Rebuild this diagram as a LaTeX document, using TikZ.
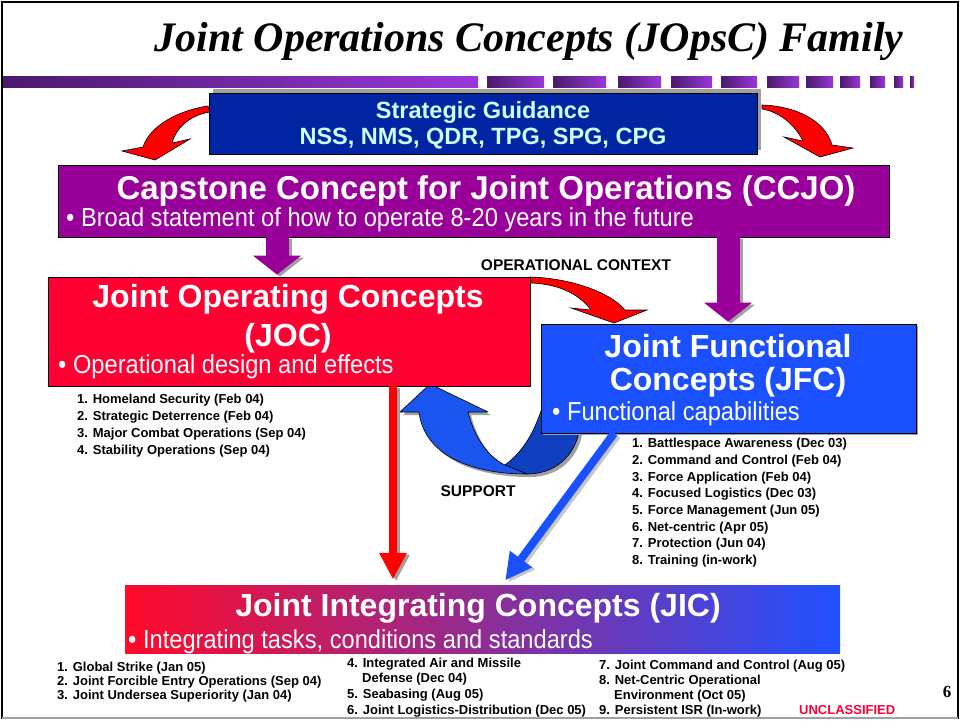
\documentclass[tikz,border=0pt]{standalone}
\usepackage{fontspec}
\setmainfont{Liberation Sans}
\newfontfamily\titlefont{Liberation Serif}
\newfontfamily\narrowfont[FakeStretch=0.91]{Liberation Sans}
\usetikzlibrary{arrows.meta, shadows}

\definecolor{barDark}{HTML}{4A1A6C}
\definecolor{barLight}{HTML}{9A36DA}
\definecolor{guideBlue}{HTML}{0024A2}
\definecolor{guideText}{HTML}{CCFFFF}
\definecolor{arrowRed}{HTML}{FF0000}
\definecolor{ccjoPurple}{HTML}{990099}
\definecolor{jocRed}{HTML}{FF0033}
\definecolor{jfcBlue}{HTML}{1A50FF}
\definecolor{ribbonBlue}{HTML}{1A55F0}
\definecolor{ribbonDark}{HTML}{1040C0}
\definecolor{jicLeft}{HTML}{FF0A2A}
\definecolor{jicMid}{HTML}{B030B0}
\definecolor{jicRight}{HTML}{2050FF}
\definecolor{shadowGray}{HTML}{A0A0A0}

\newcommand*{\setsize}[1]{\fontsize{#1}{#1}\selectfont}

\tikzstyle{box} = [draw, rectangle, inner sep=0pt, line width=0.8pt]
\tikzstyle{heading} = [text=white, font=\bfseries\setsize{32}, inner sep=0pt, anchor=base]
\tikzstyle{bullet} = [text=white, font=\narrowfont\setsize{26}, inner sep=0pt, anchor=base west]
\tikzstyle{item} = [font=\bfseries\setsize{13}, inner sep=0pt, anchor=base west]
\tikzstyle{caption} = [font=\bfseries\setsize{15.5}, inner sep=0pt, anchor=base]
\tikzstyle{bend arrow} = [draw, line width=0.6pt, fill=arrowRed, line join=miter]
\tikzstyle{ribbon} = [draw, line width=0.6pt, line join=round]
\tikzstyle{purple flow} = [
    line width=23pt,
    draw=ccjoPurple,
    -{Triangle[width=48pt 0, length=19pt 0, line width=0pt]},
    shorten >=2pt
]
\tikzstyle{thin flow} = [
    line width=8pt,
    -{Triangle[width=28pt 0, length=26pt 0, line width=0pt]},
    shorten >=6pt
]

\begin{document}
\begin{tikzpicture}[x=1pt, y=-1pt]
    \useasboundingbox (0, 0) rectangle (960, 721);

    % Frame and title bar.
    \draw [line width=2pt] (2, 719) -- (2, 2) -- (958, 2) -- (958, 719);
    \draw [line width=2pt, shadowGray] (2, 718) -- (958, 718);
    \shade [left color=barDark, right color=barLight] (3, 76) rectangle (478, 87);
    \foreach \a/\b in {487/544, 553/606, 618/661, 671/712, 721/757, 767/799,
                       806/833, 840/860, 870/885, 894/903, 910/914}
        \shade [left color=barDark, right color=barLight] (\a, 76) rectangle (\b, 87);

    \node (title) [font=\titlefont\bfseries\itshape\setsize{42}, inner sep=0pt, anchor=base]
        at (529, 51) {Joint Operations Concepts (JOpsC) Family};

    % Curved arrows.
    \draw [bend arrow] (208, 106) .. controls (180, 110) and (150, 125) .. (143, 147)
        -- (122, 151) -- (155, 160) -- (190, 139) -- (172, 143)
        .. controls (176, 128) and (190, 115) .. (210, 112) -- cycle;
    \draw [bend arrow] (762, 105) .. controls (795, 106) and (825, 120) .. (832, 145)
        -- (853, 148) -- (820, 157) -- (784, 137) -- (803, 141)
        .. controls (795, 125) and (780, 112) .. (762, 109) -- cycle;
    \draw [bend arrow] (530, 277) .. controls (570, 278) and (610, 292) .. (625, 310)
        -- (647, 310) -- (614, 323) -- (571, 308) -- (591, 310)
        .. controls (580, 295) and (560, 284) .. (531, 283) -- cycle;

    % Support ribbon.
    \fill [shadowGray, shift={(3, 3)}] (430, 384) -- (488, 412) -- (468, 412)
        .. controls (475, 440) and (490, 458) .. (505, 465)
        .. controls (525, 450) and (535, 430) .. (543, 405) -- (580, 425)
        .. controls (578, 450) and (560, 474) .. (527, 474)
        .. controls (480, 474) and (425, 460) .. (419, 412) -- (400, 412) -- cycle;
    \draw [ribbon, fill=ribbonDark] (505, 465) .. controls (525, 450) and (535, 430) .. (543, 405)
        -- (580, 425) .. controls (578, 450) and (560, 474) .. (527, 474) -- cycle;
    \draw [ribbon, fill=ribbonBlue] (430, 384) -- (488, 412) -- (468, 412)
        .. controls (475, 440) and (490, 458) .. (505, 465) -- (527, 474)
        .. controls (480, 474) and (425, 460) .. (419, 412) -- (400, 412) -- cycle;

    % Boxes.
    \node (guidance) [box, fill=guideBlue, minimum width=548pt, minimum height=61pt,
        drop shadow={shadow xshift=4pt, shadow yshift=4pt, fill=shadowGray, opacity=1}]
        at (483, 123.5) {};
    \node (ccjo) [box, fill=ccjoPurple, minimum width=831pt, minimum height=72pt] at (473.5, 201) {};
    \node (joc) [box, fill=jocRed, minimum width=482pt, minimum height=109pt] at (289, 331.5) {};
    \node (jfc) [box, fill=jfcBlue, minimum width=375pt, minimum height=109pt,
        drop shadow={shadow xshift=2pt, shadow yshift=-2pt, fill=shadowGray, opacity=1}]
        at (728.5, 378.5) {};
    \node (jic) [rectangle, left color=jicLeft, middle color=jicMid, right color=jicRight,
        minimum width=715pt, minimum height=68pt, inner sep=0pt] at (482.5, 619) {};

    % Straight arrows.
    \coordinate (left drop) at (277, 0);
    \coordinate (right drop) at (728, 0);
    \coordinate (joc drop) at (393, 0);
    \coordinate (jfc drop) at (614, 0);
    \coordinate (jic drop) at (502, 0);

    \draw [purple flow, draw=shadowGray, transform canvas={xshift=3pt, yshift=-2pt}]
        (ccjo.south -| left drop) -- (joc.north -| left drop);
    \draw [purple flow] (ccjo.south -| left drop) -- (joc.north -| left drop);
    \draw [purple flow, draw=shadowGray, transform canvas={xshift=3pt, yshift=-2pt}]
        (ccjo.south -| right drop) -- (jfc.north -| right drop);
    \draw [purple flow] (ccjo.south -| right drop) -- (jfc.north -| right drop);

    \draw [thin flow, draw=shadowGray, transform canvas={xshift=3pt, yshift=-2pt}]
        (joc.south -| joc drop) -- (jic.north -| joc drop);
    \draw [thin flow, draw=arrowRed] (joc.south -| joc drop) -- (jic.north -| joc drop);
    \draw [thin flow, draw=shadowGray!60, transform canvas={xshift=3pt, yshift=-2pt}]
        (jfc.south -| jfc drop) -- (jic.north -| jic drop);
    \draw [thin flow, draw=jfcBlue] (jfc.south -| jfc drop) -- (jic.north -| jic drop);

    % Box texts.
    \node (guidance head) [caption, text=guideText, font=\bfseries\setsize{23.5}] at (483, 118) {Strategic Guidance};
    \node (guidance list) [caption, text=guideText, font=\bfseries\setsize{23.5}] at (483, 144) {NSS, NMS, QDR, TPG, SPG, CPG};

    \node (ccjo head) [heading, font=\bfseries\setsize{33}] at (486, 199) {Capstone Concept for Joint Operations (CCJO)};
    \node (ccjo note) [bullet] at (66, 226) {\textbullet\ Broad statement of how to operate 8-20 years in the future};

    \node (joc head) [heading] at (288, 307) {Joint Operating Concepts};
    \node (joc abbr) [heading] at (288, 346) {(JOC)};
    \node (joc note) [bullet] at (58, 373) {\textbullet\ Operational design and effects};

    \node (jfc head) [heading] at (728, 357) {Joint Functional};
    \node (jfc abbr) [heading] at (728, 390) {Concepts (JFC)};
    \node (jfc note) [bullet] at (552, 420) {\textbullet\ Functional capabilities};

    \node (jic head) [heading] at (478, 616) {Joint Integrating Concepts (JIC)};
    \node (jic note) [bullet] at (128, 648) {\textbullet\ Integrating tasks, conditions and standards};

    % Arrow labels.
    \node (context) [caption] at (576, 270) {OPERATIONAL CONTEXT};
    \node (support) [caption] at (478, 496) {SUPPORT};

    % Lists.
    \foreach \t [count=\i] in {1. Homeland Security (Feb 04), 2. Strategic Deterrence (Feb 04),
                               3. Major Combat Operations (Sep 04), 4. Stability Operations (Sep 04)}
        \node (joc item \i) [item] at (77, 386 + 17*\i) {\t};

    \foreach \t [count=\i] in {1. Battlespace Awareness (Dec 03), 2. Command and Control (Feb 04),
                               3. Force Application (Feb 04), 4. Focused Logistics (Dec 03),
                               5. Force Management (Jun 05), 6. Net-centric (Apr 05),
                               7. Protection (Jun 04), 8. Training (in-work)}
        \node (jfc item \i) [item] at (632, 431 + 16.7*\i) {\t};

    \foreach \x/\y/\t [count=\i] in {57/671/1. Global Strike (Jan 05),
                                     57/685/2. Joint Forcible Entry Operations (Sep 04),
                                     57/699/3. Joint Undersea Superiority (Jan 04),
                                     347/667/4. Integrated Air and Missile,
                                     362/682/Defense (Dec 04),
                                     347/698/5. Seabasing (Aug 05),
                                     347/714/6. Joint Logistics-Distribution (Dec 05),
                                     599/669/7. Joint Command and Control (Aug 05),
                                     599/684/8. Net-Centric Operational,
                                     614/699/Environment (Oct 05),
                                     599/714/9. Persistent ISR (In-work)}
        \node (jic item \i) [item] at (\x, \y) {\t};

    \node (marking) [item, text=jocRed] at (799, 714) {UNCLASSIFIED};
    \node (page) [font=\titlefont\bfseries\setsize{17}, inner sep=0pt, anchor=base] at (947, 697) {6};
\end{tikzpicture}
\end{document}
